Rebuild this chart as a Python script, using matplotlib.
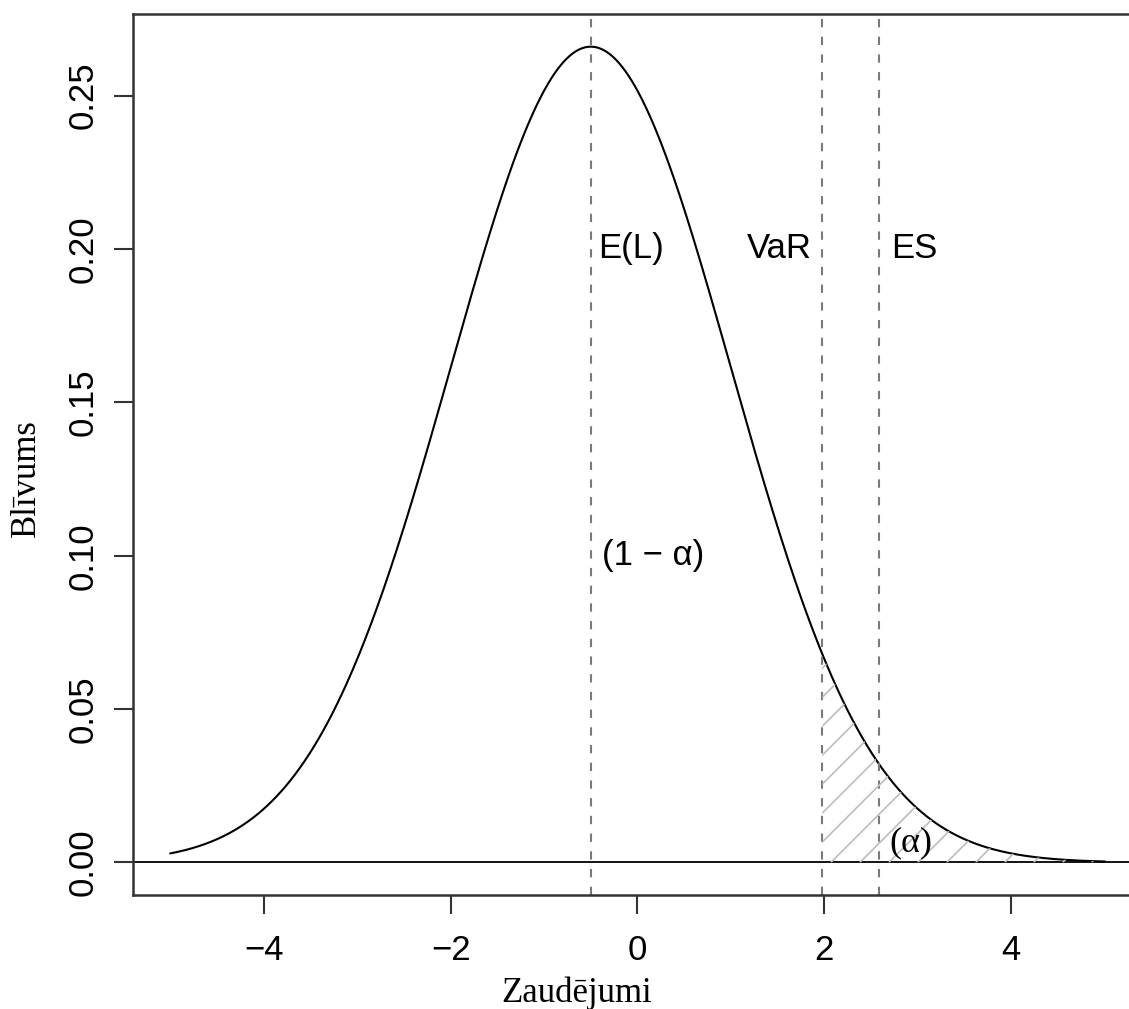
import numpy as np
import matplotlib.pyplot as plt
from matplotlib.collections import LineCollection

# loss distribution (normal, peak ~0.266 at -0.5)
mu = -0.5
sigma = 1.5
alpha = 0.05
var_level = 1.97
es_level = 2.59
x_from, x_to = -5, 5

x_ticks = [-4, -2, 0, 2, 4]
x_tick_labels = ['\u22124', '\u22122', '0', '2', '4']
y_ticks = [0.00, 0.05, 0.10, 0.15, 0.20, 0.25]
y_tick_labels = ['0.00', '0.05', '0.10', '0.15', '0.20', '0.25']

x = np.linspace(x_from, x_to, 600)
y = np.exp(-0.5 * ((x - mu) / sigma) ** 2) / (sigma * np.sqrt(2 * np.pi))

fig = plt.figure(figsize=(11.29, 10.09), dpi=100)
ax = fig.add_axes([0.1178, 0.113, 0.8937, 0.8731])

sans = 'Liberation Sans'
serif = 'Liberation Serif'
fs = 25

ax.plot(x, y, color='black', lw=1.5)
ax.axhline(0, color='black', lw=1.3)

dash = (0, (4.0, 4.5))
for v in [mu, var_level, es_level]:
    ax.axvline(v, color='#7a7a7a', lw=1.5, ls=dash)

ax.set_xlim(-5.4, 5.4)
ax.set_ylim(-0.0106, 0.2766)

# hatched tail beyond VaR
tail = x >= var_level
poly = ax.fill_between(x[tail], 0, y[tail], facecolor='none', edgecolor='none')
fig.canvas.draw()
p0 = ax.transData.transform((0, 0))
p1 = ax.transData.transform((1, 1))
k = (p1[0] - p0[0]) / (p1[1] - p0[1])  # data slope of a 45 degree line
step = 0.31
segs = []
for x0 in np.arange(var_level - 3.0, x_to + step, step):
    segs.append([(x0, 0), (x0 + 0.3 / k, 0.3)])
hatch = LineCollection(segs, colors='#bdbdbd', linewidths=1.2)
ax.add_collection(hatch)
hatch.set_clip_path(poly.get_paths()[0], ax.transData)

ax.text(mu + 0.08, 0.20, 'E(L)', fontsize=fs, family=sans, ha='left', va='center')
ax.text(var_level - 0.1, 0.20, 'VaR', fontsize=fs, family=sans, ha='right', va='center')
ax.text(es_level + 0.13, 0.20, 'ES', fontsize=fs, family=sans, ha='left', va='center')
ax.text(mu + 0.12, 0.10, '(1 \u2212 \u03b1)', fontsize=fs, family=sans, ha='left', va='center')
ax.text(2.93, 0.0065, '(\u03b1)', fontsize=fs + 1, family=serif, ha='center', va='center')

ax.set_xticks(x_ticks)
ax.set_xticklabels(x_tick_labels, family=sans, fontsize=fs)
ax.set_yticks(y_ticks)
ax.set_yticklabels(y_tick_labels, family=sans, fontsize=fs, rotation=90, va='center')
ax.tick_params(axis='both', length=14, width=1.5, color='#333333', direction='out')
ax.tick_params(axis='x', pad=14)
ax.tick_params(axis='y', pad=10)

for s in ax.spines.values():
    s.set_linewidth(1.8)
    s.set_color('#333333')

ax.set_xlabel('Zaudējumi', family=serif, fontsize=fs)
ax.set_ylabel('Blīvums', family=serif, fontsize=fs)
ax.xaxis.set_label_coords(0.44, -0.093, transform=ax.transAxes)
ax.yaxis.set_label_coords(-0.089, 0.473, transform=ax.transAxes)

fig.savefig('out.png', dpi=100)
